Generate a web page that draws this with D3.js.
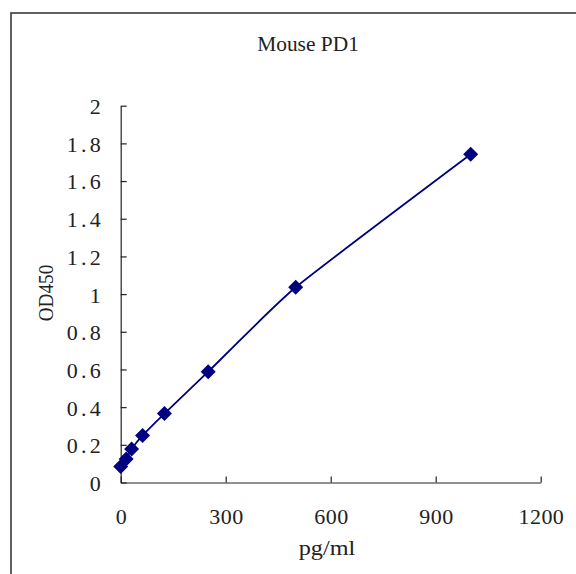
<!DOCTYPE html>
<html>
<head>
<meta charset="utf-8">
<script src="https://cdn.jsdelivr.net/npm/d3@7"></script>
<style>
  html, body { margin: 0; padding: 0; background: #fff; }
  svg { display: block; }
</style>
</head>
<body>
<svg id="chart" width="576" height="574"></svg>
<script>
// ---- data ----
const concentrations = [0, 15.625, 31.25, 62.5, 125, 250, 500, 1000];   // pg/ml
const od450 = [0.085, 0.125, 0.178, 0.25, 0.366, 0.588, 1.036, 1.742];
const xTicks = [0, 300, 600, 900, 1200];
const yTicks = [0, 0.2, 0.4, 0.6, 0.8, 1, 1.2, 1.4, 1.6, 1.8, 2];
const title = 'Mouse PD1';
const xTitle = 'pg/ml';
const yTitle = 'OD450';

const points = concentrations.map((c, i) => ({x: c, y: od450[i]}));

const svg = d3.select('#chart');
const font = '"Liberation Serif", "Times New Roman", serif';
const charW = 11.3; // width of one half-width glyph in the reference font
const navy = '#000080';

// outer frame
svg.append('rect')
  .attr('x', 11).attr('y', 13)
  .attr('width', 620).attr('height', 620)
  .attr('fill', 'none')
  .attr('stroke', '#3a3a3a')
  .attr('stroke-width', 1.6);

const x = d3.scaleLinear().domain([0, 1200]).range([120.7, 540.7]);
const y = d3.scaleLinear().domain([0, 2]).range([482.5, 105.7]);

const styleTicks = g => {
  g.select('.domain').attr('stroke', '#222').attr('stroke-width', 1.2);
  g.selectAll('.tick line').attr('stroke', '#222').attr('stroke-width', 1.2);
  g.selectAll('.tick text')
    .attr('font-family', font)
    .attr('font-size', 22)
    .attr('fill', '#222')
    .attr('textLength', function() { return this.textContent.length * charW; })
    .attr('lengthAdjust', 'spacing');
};

// y axis, ticks pointing into the plot
svg.append('g')
  .attr('transform', `translate(${x(0)},0)`)
  .call(d3.axisLeft(y).tickValues(yTicks).tickFormat(d => String(d))
    .tickSize(-6).tickSizeOuter(0).tickPadding(20))
  .call(styleTicks)
  .call(g => g.selectAll('.tick text').attr('dy', '0.36em'));

// x axis, ticks pointing up
svg.append('g')
  .attr('transform', `translate(0,${y(0)})`)
  .call(d3.axisBottom(x).tickValues(xTicks).tickFormat(d => String(d))
    .tickSize(-6).tickSizeOuter(0).tickPadding(26))
  .call(styleTicks)
  .call(g => g.selectAll('.tick text').attr('dy', '0.71em'));

// smoothed curve
const line = d3.line()
  .x(d => x(d.x))
  .y(d => y(d.y))
  .curve(d3.curveCardinal.tension(0.5));

svg.append('path')
  .datum(points)
  .attr('d', line)
  .attr('fill', 'none')
  .attr('stroke', navy)
  .attr('stroke-width', 1.8);

// diamond markers
const diamond = d3.symbol().type(d3.symbolSquare).size(112);
svg.append('g').selectAll('path')
  .data(points)
  .join('path')
  .attr('d', diamond)
  .attr('transform', d => `translate(${x(d.x)},${y(d.y)}) rotate(45)`)
  .attr('fill', navy);

// titles
svg.append('text')
  .attr('x', 308).attr('y', 51)
  .attr('text-anchor', 'middle')
  .attr('font-family', font).attr('font-size', 22).attr('fill', '#222')
  .attr('textLength', title.length * charW).attr('lengthAdjust', 'spacingAndGlyphs')
  .text(title);

svg.append('text')
  .attr('x', 327).attr('y', 555)
  .attr('text-anchor', 'middle')
  .attr('font-family', font).attr('font-size', 22).attr('fill', '#222')
  .attr('textLength', xTitle.length * charW).attr('lengthAdjust', 'spacingAndGlyphs')
  .text(xTitle);

svg.append('text')
  .attr('transform', 'translate(53,293) rotate(-90)')
  .attr('text-anchor', 'middle')
  .attr('font-family', font).attr('font-size', 22).attr('fill', '#222')
  .attr('textLength', yTitle.length * charW).attr('lengthAdjust', 'spacingAndGlyphs')
  .text(yTitle);
</script>
</body>
</html>
